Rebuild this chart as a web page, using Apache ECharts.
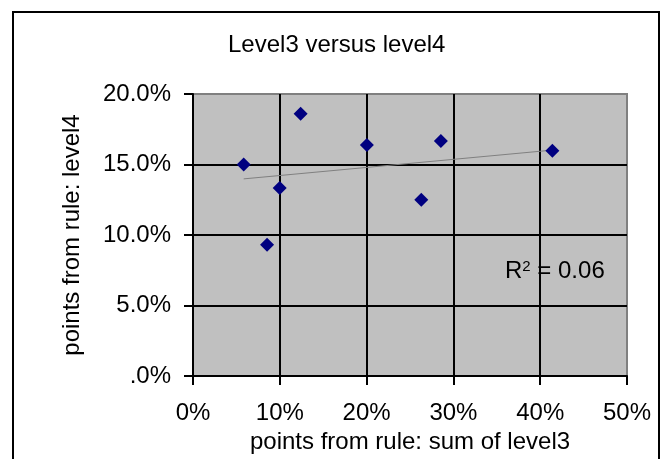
<!DOCTYPE html>
<html>
<head>
<meta charset="utf-8">
<script src="https://cdn.jsdelivr.net/npm/echarts@6/dist/echarts.min.js"></script>
<style>
  html, body { margin: 0; padding: 0; background: #ffffff; }
  #chart { width: 662px; height: 459px; }
</style>
</head>
<body>
<div id="chart"></div>
<script>
// Sum of level3 points (x) against level4 points (y), as fractions
const level3 = [0.0584, 0.0853, 0.0999, 0.124, 0.2003, 0.263, 0.2856, 0.414];
const level4 = [0.150, 0.0931, 0.1333, 0.186, 0.1638, 0.125, 0.1667, 0.1598];

// Linear trendline end points
const trendX = [0.0584, 0.414];
const trendY = [0.1398, 0.1602];
const rSquared = '0.06';

// Axis tick labels
const xTickLabels = ['0%', '10%', '20%', '30%', '40%', '50%'];
const yTickLabels = ['.0%', '5.0%', '10.0%', '15.0%', '20.0%'];

const FONT = '"Liberation Sans", Arial, sans-serif';

const points = level3.map((x, i) => [x, level4[i]]);
const trend = trendX.map((x, i) => [x, trendY[i]]);

const chart = echarts.init(document.getElementById('chart'), null, { renderer: 'canvas' });

chart.setOption({
  animation: false,
  backgroundColor: '#ffffff',
  title: {
    text: 'Level3 versus level4',
    left: 228,
    top: 33,
    padding: 0,
    textStyle: { fontFamily: FONT, fontSize: 24, fontWeight: 'normal', color: '#000000' }
  },
  grid: {
    left: 193, right: 35, top: 94, bottom: 83,
    show: true,
    backgroundColor: '#c0c0c0',
    borderColor: '#808080',
    borderWidth: 2
  },
  xAxis: {
    type: 'value',
    min: 0, max: 0.5, interval: 0.1,
    name: 'points from rule: sum of level3',
    nameLocation: 'middle',
    nameGap: 54,
    nameTextStyle: { fontFamily: FONT, fontSize: 24, color: '#000000' },
    axisLine: { show: true, onZero: false, lineStyle: { color: '#000000', width: 2 } },
    axisTick: { show: true, inside: false, length: 9, lineStyle: { color: '#000000', width: 2 } },
    axisLabel: {
      margin: 25,
      fontFamily: FONT, fontSize: 24, color: '#000000',
      formatter: (v) => xTickLabels[Math.round(v * 10)]
    },
    splitLine: { show: true, showMinLine: false, showMaxLine: false, lineStyle: { color: '#000000', width: 2 } }
  },
  yAxis: {
    type: 'value',
    min: 0, max: 0.2, interval: 0.05,
    name: 'points from rule: level4',
    nameLocation: 'middle',
    nameGap: 109,
    nameTextStyle: { fontFamily: FONT, fontSize: 24, color: '#000000' },
    axisLine: { show: true, onZero: false, lineStyle: { color: '#000000', width: 2 } },
    axisTick: { show: true, inside: false, length: 9, lineStyle: { color: '#000000', width: 2 } },
    axisLabel: {
      margin: 22,
      fontFamily: FONT, fontSize: 24, color: '#000000',
      formatter: (v) => yTickLabels[Math.round(v * 20)]
    },
    splitLine: { show: true, showMinLine: false, showMaxLine: false, lineStyle: { color: '#000000', width: 2 } }
  },
  series: [
    {
      name: 'Trend',
      type: 'line',
      data: trend,
      symbol: 'none',
      lineStyle: { color: '#808080', width: 1 },
      silent: true,
      z: 3
    },
    {
      name: 'level4',
      type: 'scatter',
      data: points,
      symbol: 'diamond',
      symbolSize: 14,
      itemStyle: { color: '#000080', opacity: 1 },
      z: 4
    }
  ],
  graphic: [
    {
      type: 'rect',
      silent: true,
      shape: { x: 13, y: 12, width: 646, height: 470 },
      style: { fill: 'none', stroke: '#000000', lineWidth: 2 },
      z: 100
    },
    {
      type: 'text',
      silent: true,
      x: 505,
      y: 259,
      style: {
        text: '{r|R}{s|2}{r| = ' + rSquared + '}',
        fill: '#000000',
        verticalAlign: 'top',
        rich: {
          r: { fontFamily: FONT, fontSize: 24, lineHeight: 24, fill: '#000000' },
          s: { fontFamily: FONT, fontSize: 15, lineHeight: 15, verticalAlign: 'top', fill: '#000000' }
        }
      },
      z: 100
    }
  ]
});
</script>
</body>
</html>
